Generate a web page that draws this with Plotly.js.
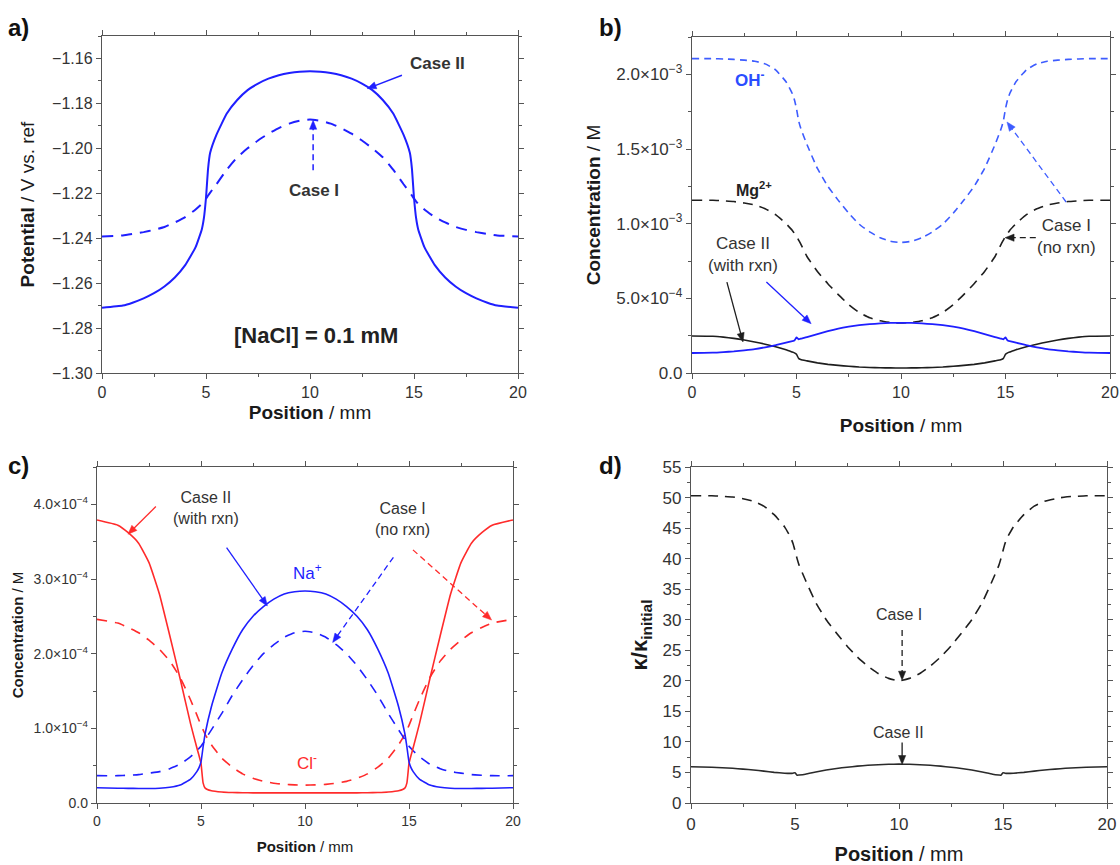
<!DOCTYPE html>
<html>
<head>
<meta charset="utf-8">
<script src="https://cdn.plot.ly/plotly-3.0.1.min.js"></script>
<style>html,body{margin:0;padding:0;background:#fff;}#chart{width:1120px;height:865px;}</style>
</head>
<body>
<div id="chart"></div>
<script>
// ---------- DATA ----------
const position = [0,1,1.5,2,2.5,3,3.5,4,4.5,4.8,4.9,5,5.1,5.2,5.5,6,6.5,7,7.5,8,8.5,9,9.5,10,
  10.5,11,11.5,12,12.5,13,13.5,14,14.5,14.8,14.9,15,15.1,15.2,15.5,16,16.5,17,17.5,18,18.5,19,20];

// a) potential (V vs. ref)
const potCaseII = [-1.2710,-1.2700,-1.2686,-1.2668,-1.2645,-1.2615,-1.2575,-1.2520,-1.2440,-1.2360,-1.2310,-1.2220,-1.2090,-1.2020,-1.1940,-1.1845,-1.1785,-1.1741,-1.1712,-1.1690,-1.1675,-1.1665,-1.1659,-1.1657,
  -1.1659,-1.1665,-1.1675,-1.1690,-1.1712,-1.1741,-1.1785,-1.1845,-1.1940,-1.2020,-1.2090,-1.2220,-1.2310,-1.2360,-1.2440,-1.2520,-1.2575,-1.2615,-1.2645,-1.2668,-1.2686,-1.2700,-1.2710];
const potCaseI = [-1.2392,-1.2388,-1.2381,-1.2373,-1.2363,-1.2350,-1.2330,-1.2306,-1.2272,-1.2247,-1.2236,-1.2224,-1.2210,-1.2197,-1.2160,-1.2095,-1.2040,-1.2000,-1.1965,-1.1935,-1.1910,-1.1890,-1.1877,-1.1872,
  -1.1877,-1.1890,-1.1910,-1.1935,-1.1965,-1.2000,-1.2040,-1.2095,-1.2160,-1.2197,-1.2210,-1.2224,-1.2236,-1.2247,-1.2272,-1.2306,-1.2330,-1.2350,-1.2363,-1.2373,-1.2381,-1.2388,-1.2392];

// b) concentration (M)
const ohCaseI = [2.105e-3,2.105e-3,2.103e-3,2.100e-3,2.095e-3,2.088e-3,2.070e-3,2.030e-3,1.950e-3,1.870e-3,1.830e-3,1.770e-3,1.690e-3,1.640e-3,1.530e-3,1.370e-3,1.250e-3,1.156e-3,1.070e-3,0.996e-3,0.945e-3,0.906e-3,0.882e-3,0.874e-3,
  0.882e-3,0.906e-3,0.945e-3,0.996e-3,1.070e-3,1.156e-3,1.250e-3,1.370e-3,1.530e-3,1.640e-3,1.690e-3,1.770e-3,1.830e-3,1.870e-3,1.950e-3,2.030e-3,2.070e-3,2.088e-3,2.095e-3,2.100e-3,2.103e-3,2.105e-3,2.105e-3];
const mgCaseI = [1.157e-3,1.157e-3,1.153e-3,1.148e-3,1.138e-3,1.125e-3,1.100e-3,1.060e-3,1.000e-3,0.955e-3,0.935e-3,0.915e-3,0.890e-3,0.865e-3,0.780e-3,0.680e-3,0.598e-3,0.525e-3,0.458e-3,0.405e-3,0.370e-3,0.350e-3,0.338e-3,0.335e-3,
  0.338e-3,0.350e-3,0.370e-3,0.405e-3,0.458e-3,0.525e-3,0.598e-3,0.680e-3,0.780e-3,0.865e-3,0.890e-3,0.915e-3,0.935e-3,0.955e-3,1.000e-3,1.060e-3,1.100e-3,1.125e-3,1.138e-3,1.148e-3,1.153e-3,1.157e-3,1.157e-3];
const ohCaseII = [0.134e-3,0.136e-3,0.140e-3,0.145e-3,0.152e-3,0.160e-3,0.172e-3,0.186e-3,0.203e-3,0.213e-3,0.217e-3,0.238e-3,0.226e-3,0.230e-3,0.240e-3,0.260e-3,0.280e-3,0.297e-3,0.310e-3,0.320e-3,0.327e-3,0.332e-3,0.335e-3,0.336e-3,
  0.335e-3,0.332e-3,0.327e-3,0.320e-3,0.310e-3,0.297e-3,0.280e-3,0.260e-3,0.240e-3,0.230e-3,0.226e-3,0.238e-3,0.217e-3,0.213e-3,0.203e-3,0.186e-3,0.172e-3,0.160e-3,0.152e-3,0.145e-3,0.140e-3,0.136e-3,0.134e-3];
const mgCaseII = [0.248e-3,0.246e-3,0.240e-3,0.232e-3,0.221e-3,0.208e-3,0.193e-3,0.176e-3,0.155e-3,0.140e-3,0.135e-3,0.125e-3,0.098e-3,0.090e-3,0.081e-3,0.068e-3,0.058e-3,0.051e-3,0.045e-3,0.040e-3,0.037e-3,0.035e-3,0.034e-3,0.033e-3,
  0.034e-3,0.035e-3,0.037e-3,0.040e-3,0.045e-3,0.051e-3,0.058e-3,0.068e-3,0.081e-3,0.090e-3,0.098e-3,0.125e-3,0.135e-3,0.140e-3,0.155e-3,0.176e-3,0.193e-3,0.208e-3,0.221e-3,0.232e-3,0.240e-3,0.246e-3,0.248e-3];

// c) concentration (M)
const clCaseII = [3.79e-4,3.72e-4,3.62e-4,3.48e-4,3.22e-4,2.80e-4,2.24e-4,1.66e-4,1.06e-4,0.74e-4,0.64e-4,0.53e-4,0.27e-4,0.20e-4,0.165e-4,0.148e-4,0.141e-4,0.138e-4,0.136e-4,0.135e-4,0.135e-4,0.135e-4,0.135e-4,0.135e-4,
  0.135e-4,0.135e-4,0.135e-4,0.135e-4,0.136e-4,0.138e-4,0.141e-4,0.148e-4,0.165e-4,0.20e-4,0.27e-4,0.53e-4,0.64e-4,0.74e-4,1.06e-4,1.66e-4,2.24e-4,2.80e-4,3.22e-4,3.48e-4,3.62e-4,3.72e-4,3.79e-4];
const naCaseII = [0.205e-4,0.198e-4,0.196e-4,0.195e-4,0.195e-4,0.198e-4,0.21e-4,0.24e-4,0.32e-4,0.42e-4,0.47e-4,0.55e-4,0.75e-4,0.93e-4,1.29e-4,1.74e-4,2.06e-4,2.32e-4,2.50e-4,2.63e-4,2.73e-4,2.80e-4,2.83e-4,2.84e-4,
  2.83e-4,2.80e-4,2.73e-4,2.63e-4,2.50e-4,2.32e-4,2.06e-4,1.74e-4,1.29e-4,0.93e-4,0.75e-4,0.55e-4,0.47e-4,0.42e-4,0.32e-4,0.24e-4,0.21e-4,0.198e-4,0.195e-4,0.195e-4,0.196e-4,0.198e-4,0.205e-4];
const naCaseI = [0.366e-4,0.366e-4,0.372e-4,0.38e-4,0.40e-4,0.42e-4,0.46e-4,0.52e-4,0.62e-4,0.70e-4,0.73e-4,0.76e-4,0.80e-4,0.85e-4,0.98e-4,1.20e-4,1.44e-4,1.65e-4,1.84e-4,2.00e-4,2.12e-4,2.22e-4,2.28e-4,2.30e-4,
  2.28e-4,2.22e-4,2.12e-4,2.00e-4,1.84e-4,1.65e-4,1.44e-4,1.20e-4,0.98e-4,0.85e-4,0.80e-4,0.76e-4,0.73e-4,0.70e-4,0.62e-4,0.52e-4,0.46e-4,0.42e-4,0.40e-4,0.38e-4,0.372e-4,0.366e-4,0.366e-4];
const clCaseI = [2.46e-4,2.41e-4,2.35e-4,2.28e-4,2.18e-4,2.06e-4,1.90e-4,1.68e-4,1.38e-4,1.18e-4,1.11e-4,1.04e-4,0.98e-4,0.92e-4,0.78e-4,0.60e-4,0.48e-4,0.39e-4,0.33e-4,0.29e-4,0.265e-4,0.25e-4,0.243e-4,0.24e-4,
  0.243e-4,0.25e-4,0.265e-4,0.29e-4,0.33e-4,0.39e-4,0.48e-4,0.60e-4,0.78e-4,0.92e-4,0.98e-4,1.04e-4,1.11e-4,1.18e-4,1.38e-4,1.68e-4,1.90e-4,2.06e-4,2.18e-4,2.28e-4,2.35e-4,2.41e-4,2.46e-4];

// d) conductivity ratio
const kappaCaseI = [50.3,50.3,50.2,50.1,49.8,49.4,48.6,47.2,45.2,43.4,42.5,41.3,40.0,38.9,36.5,32.8,30.0,27.8,25.7,23.9,22.4,21.2,20.4,20.0,
  20.4,21.2,22.4,23.9,25.7,27.8,30.0,32.8,36.5,38.9,40.0,41.3,42.5,43.4,45.2,47.2,48.6,49.4,49.8,50.1,50.2,50.3,50.3];
const kappaCaseII = [5.94,5.85,5.77,5.68,5.55,5.40,5.22,5.02,4.88,4.85,4.88,4.95,4.55,4.58,4.72,5.08,5.40,5.66,5.86,6.03,6.17,6.27,6.34,6.36,
  6.34,6.27,6.17,6.03,5.86,5.66,5.40,5.08,4.72,4.58,4.55,4.95,4.88,4.85,4.88,5.02,5.22,5.40,5.55,5.68,5.77,5.85,5.94];

// tick labels
const xTicks = [0,5,10,15,20];
const potTicks = [-1.30,-1.28,-1.26,-1.24,-1.22,-1.20,-1.18,-1.16];
const concBTickVals = [0,5e-4,1e-3,1.5e-3,2e-3];
const concBTickText = ['0.0','5.0×10<sup>−4</sup>','1.0×10<sup>−3</sup>','1.5×10<sup>−3</sup>','2.0×10<sup>−3</sup>'];
const concCTickVals = [0,1e-4,2e-4,3e-4,4e-4];
const concCTickText = ['0.0','1.0×10<sup>−4</sup>','2.0×10<sup>−4</sup>','3.0×10<sup>−4</sup>','4.0×10<sup>−4</sup>'];
const kappaTicks = [0,5,10,15,20,25,30,35,40,45,50,55];

// ---------- STYLE / GEOMETRY ----------
const W = 1120, H = 865;
const FONT = 'Liberation Sans, Arial, sans-serif';
const BLUE = '#1f1fff', BLUE2 = '#3d5cff', RED = '#ff2b2b', BLACK = '#1e1e1e', AX = '#555';

const P = {
  a: {xr: 'x',  yr: 'y',  l: 102, r: 518,  t: 36,  b: 373, yRange: [-1.30, -1.15]},
  b: {xr: 'x2', yr: 'y2', l: 692, r: 1110, t: 37,  b: 373, yRange: [0, 2.25e-3]},
  c: {xr: 'x3', yr: 'y3', l: 97,  r: 513,  t: 467, b: 803, yRange: [0, 4.5e-4]},
  d: {xr: 'x4', yr: 'y4', l: 691, r: 1107, t: 467, b: 803, yRange: [0, 55]}
};
Object.values(P).forEach(p => {
  p.kx = (p.r - p.l) / 20;
  p.ky = (p.b - p.t) / (p.yRange[1] - p.yRange[0]);
});

function tr(y, p, color, width, dash) {
  return {x: position, y: y, xaxis: p.xr, yaxis: p.yr, mode: 'lines', type: 'scatter',
    line: {color: color, width: width, dash: dash || 'solid', shape: 'spline', smoothing: 0.4},
    hoverinfo: 'skip'};
}

const traces = [
  tr(potCaseI, P.a, BLUE, 2, '11px,8px'),
  tr(potCaseII, P.a, BLUE, 2),
  tr(ohCaseI, P.b, BLUE2, 1.6, '7px,5px'),
  tr(mgCaseI, P.b, BLACK, 1.6, '10px,7px'),
  tr(mgCaseII, P.b, BLACK, 1.6),
  tr(ohCaseII, P.b, BLUE, 1.8),
  tr(clCaseI, P.c, RED, 1.6, '10px,8px'),
  tr(naCaseI, P.c, BLUE, 1.6, '10px,8px'),
  tr(clCaseII, P.c, RED, 1.6),
  tr(naCaseII, P.c, BLUE, 1.6),
  tr(kappaCaseI, P.d, BLACK, 1.6, '10px,7px'),
  tr(kappaCaseII, P.d, '#2a2a2a', 1.6)
];

function xAxis(p, fsize, tsize, standoff) {
  return {domain: [p.l / W, p.r / W], anchor: p.yr, range: [0, 20], tickmode: 'array', tickvals: xTicks,
    ticks: 'outside', ticklen: 5, tickwidth: 1, tickcolor: AX, showline: true, linecolor: AX, linewidth: 1.2,
    mirror: 'ticks', showgrid: false, zeroline: false,
    minor: {dtick: 2.5, tick0: 0, ticks: 'outside', ticklen: 3, tickcolor: AX, showgrid: false},
    tickfont: {family: FONT, size: fsize, color: '#333'},
    title: {text: '<b>Position</b> / mm', font: {family: FONT, size: tsize, color: '#1a1a1a'}, standoff: standoff}};
}
function yAxis(p, vals, text, fmt, minorDt, fsize, title, tsize, standoff) {
  const ax = {domain: [1 - p.b / H, 1 - p.t / H], anchor: p.xr, range: p.yRange, tickmode: 'array', tickvals: vals,
    ticks: 'outside', ticklen: 5, tickwidth: 1, tickcolor: AX, showline: true, linecolor: AX, linewidth: 1.2,
    mirror: 'ticks', showgrid: false, zeroline: false,
    minor: {dtick: minorDt, tick0: 0, ticks: 'outside', ticklen: 3, tickcolor: AX, showgrid: false},
    tickfont: {family: FONT, size: fsize, color: '#333'},
    title: {text: title, font: {family: FONT, size: tsize, color: '#1a1a1a'}, standoff: standoff}};
  if (text) ax.ticktext = text;
  if (fmt) ax.tickformat = fmt;
  return ax;
}

const annotations = [];
const shapes = [];
function label(p, x, y, text, size, color, bold) {
  annotations.push({xref: p.xr, yref: p.yr, x: x, y: y, text: text, showarrow: false,
    font: {family: FONT, size: size, color: color || '#333', weight: bold ? 'bold' : 'normal'},
    xanchor: 'center', yanchor: 'middle'});
}
// arrow drawn as a line shape plus a filled triangular head (pixel-sized, anchored at the tip)
function arrow(p, hx, hy, tx, ty, color, width, dashed) {
  let ux = (tx - hx) * p.kx, uy = (ty - hy) * p.ky;
  const n = Math.hypot(ux, uy); ux /= n; uy /= n;
  const L = 9, Wd = 3.6;
  shapes.push({type: 'line', xref: p.xr, yref: p.yr, x0: tx, y0: ty,
    x1: hx + ux * L * 0.7 / p.kx, y1: hy + uy * L * 0.7 / p.ky,
    line: {color: color, width: width || 1.4, dash: dashed ? '6px,4px' : 'solid'}});
  const b1x = L * ux - Wd * uy, b1y = L * uy + Wd * ux;
  const b2x = L * ux + Wd * uy, b2y = L * uy - Wd * ux;
  shapes.push({type: 'path', xref: p.xr, yref: p.yr, xsizemode: 'pixel', ysizemode: 'pixel',
    xanchor: hx, yanchor: hy,
    path: 'M0,0 L' + b1x.toFixed(2) + ',' + b1y.toFixed(2) + ' L' + b2x.toFixed(2) + ',' + b2y.toFixed(2) + ' Z',
    fillcolor: color, line: {color: color, width: 0.5}});
}

// panel a
label(P.a, 16.14, -1.1622, 'Case II', 17, '#333', true);
label(P.a, 10.18, -1.2187, 'Case I', 17, '#333', true);
label(P.a, 10.3, -1.2834, '[NaCl] = 0.1 mM', 22, '#222', true);
arrow(P.a, 12.75, -1.1734, 14.42, -1.1675, BLUE, 1.5);
arrow(P.a, 10.15, -1.1875, 10.15, -1.2098, BLUE, 1.5, true);

// panel b
label(P.b, 2.78, 1.971e-3, 'OH<sup>-</sup>', 17, '#2a4dff', true);
label(P.b, 2.96, 1.234e-3, 'Mg<sup>2+</sup>', 16, '#222', true);
label(P.b, 2.44, 0.795e-3, 'Case II<br>(with rxn)', 17, '#333');
label(P.b, 17.9, 0.915e-3, 'Case I<br>(no rxn)', 17, '#333');
arrow(P.b, 2.44, 0.208e-3, 1.67, 0.609e-3, BLACK, 1.3);
arrow(P.b, 5.70, 0.330e-3, 3.56, 0.609e-3, BLUE, 1.3);
arrow(P.b, 14.98, 0.906e-3, 16.45, 0.906e-3, BLACK, 1.3, true);
arrow(P.b, 15.07, 1.681e-3, 17.9, 1.145e-3, BLUE2, 1.3, true);

// panel c
label(P.c, 5.24, 3.95e-4, 'Case II<br>(with rxn)', 16, '#333');
label(P.c, 14.68, 3.80e-4, 'Case I<br>(no rxn)', 16, '#333');
label(P.c, 10.13, 3.10e-4, 'Na<sup>+</sup>', 17, BLUE);
label(P.c, 10.08, 0.55e-4, 'Cl<sup>-</sup>', 17, RED);
arrow(P.c, 1.49, 3.60e-4, 2.83, 3.97e-4, RED, 1.3);
arrow(P.c, 8.19, 2.64e-4, 6.23, 3.42e-4, BLUE, 1.3);
arrow(P.c, 11.33, 2.15e-4, 14.25, 3.29e-4, BLUE, 1.3, true);
arrow(P.c, 18.97, 2.45e-4, 15.19, 3.39e-4, RED, 1.3, true);

// panel d
label(P.d, 10.02, 30.9, 'Case I', 16, '#333');
label(P.d, 9.98, 11.5, 'Case II', 16, '#333');
arrow(P.d, 10.15, 20.1, 10.15, 28.3, BLACK, 1.3, true);
arrow(P.d, 10.15, 6.3, 10.15, 9.9, BLACK, 1.3);

// panel letters
[['a)', 18, 28], ['b)', 610, 28], ['c)', 18, 466], ['d)', 610, 466]].forEach(q => {
  annotations.push({xref: 'paper', yref: 'paper', x: q[1] / W, y: 1 - q[2] / H, text: q[0],
    showarrow: false, font: {family: FONT, size: 24, color: '#111', weight: 'bold'}, xanchor: 'center', yanchor: 'middle'});
});

const layout = {
  width: W, height: H, margin: {l: 0, r: 0, t: 0, b: 0}, paper_bgcolor: '#fff', plot_bgcolor: '#fff',
  showlegend: false,
  xaxis: xAxis(P.a, 16, 19, 5),
  yaxis: yAxis(P.a, potTicks, null, '.2f', 0.01, 16, '<b>Potential</b> / V vs. ref', 19, 12),
  xaxis2: xAxis(P.b, 16, 19, 18),
  yaxis2: yAxis(P.b, concBTickVals, concBTickText, null, 2.5e-4, 17, '<b>Concentration</b> / M', 19, 10),
  xaxis3: xAxis(P.c, 14, 15, 13),
  yaxis3: yAxis(P.c, concCTickVals, concCTickText, null, 0.5e-4, 14, '<b>Concentration</b> / M', 15, 6),
  xaxis4: xAxis(P.d, 17, 20, 14),
  yaxis4: yAxis(P.d, kappaTicks, null, null, 2.5, 17, '<b>κ/κ<sub>initial</sub></b>', 22, 8),
  annotations: annotations,
  shapes: shapes
};

Plotly.newPlot('chart', traces, layout, {staticPlot: true, displayModeBar: false});
</script>
</body>
</html>
